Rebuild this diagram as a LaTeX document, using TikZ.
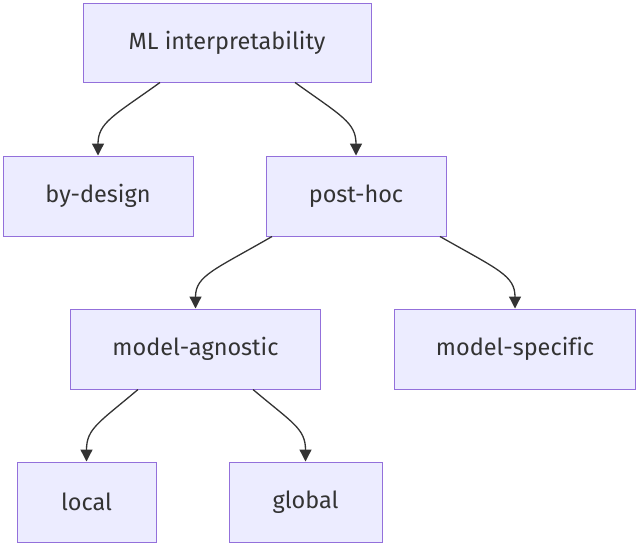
\documentclass[tikz,border=0pt]{standalone}
\usepackage{fontspec}
\setmainfont{Fira Sans}[Ligatures=NoCommon]
\usetikzlibrary{arrows.meta}
\definecolor{boxfill}{HTML}{ECECFF}
\definecolor{boxline}{HTML}{9370DB}
\definecolor{ink}{HTML}{333333}
\tikzset{
  box/.style={draw=boxline, fill=boxfill, line width=1pt, rectangle, inner sep=0pt,
    minimum height=80pt, text=ink, font=\fontsize{23.5}{28}\selectfont},
  edge/.style={draw=ink, line width=1.3pt, -{Triangle[length=12pt,width=12pt]}}
}
\begin{document}
\begin{tikzpicture}[x=1pt,y=-1pt]
\useasboundingbox (0,0) rectangle (636,542);
\node[box, minimum width=288pt, minimum height=79pt] (ml) at (227,42.5) {ML interpretability};
\node[box, minimum width=190pt] (bd) at (98,196) {by-design};
\node[box, minimum width=180pt] (ph) at (356,196) {post-hoc};
\node[box, minimum width=250pt] (ma) at (195.5,349) {model-agnostic};
\node[box, minimum width=241pt] (ms) at (515,349) {model-specific};
\node[box, minimum width=139pt] (loc) at (86.5,502) {local};
\node[box, minimum width=153pt] (glo) at (305.5,502) {global};

\draw[edge] ([xshift=-67pt]ml.south) .. controls +(-46,33) and +(0,-33) .. (bd.north);
\draw[edge] ([xshift=68pt]ml.south) .. controls +(46,33) and +(0,-33) .. (ph.north);
\draw[edge] ([xshift=-84pt]ph.south) .. controls +(-57,33) and +(0,-33) .. (ma.north);
\draw[edge] ([xshift=84pt]ph.south) .. controls +(58,33) and +(0,-33) .. (ms.north);
\draw[edge] ([xshift=-57.5pt]ma.south) .. controls +(-39,33) and +(0,-33) .. (loc.north);
\draw[edge] ([xshift=57.5pt]ma.south) .. controls +(39,33) and +(0,-33) .. (glo.north);
\end{tikzpicture}
\end{document}
